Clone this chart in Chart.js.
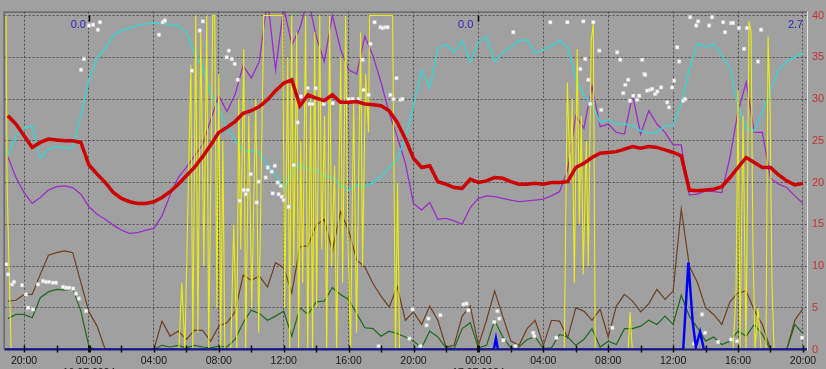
<!DOCTYPE html>
<html>
<head>
<meta charset="utf-8">
<script src="https://cdn.jsdelivr.net/npm/chart.js@4.4.1/dist/chart.umd.min.js"></script>
<style>
  html, body { margin: 0; padding: 0; background: #a0a0a0; overflow: hidden; }
</style>
</head>
<body>
<canvas id="myChart" width="826" height="369"></canvas>
<script>
// hours counted from 00:00 on 16.07.2024, one reading every half hour
var hours = [
    -5, -4.5, -4, -3.5, -3, -2.5, -2, -1.5, -1, -0.5,
    0, 0.5, 1, 1.5, 2, 2.5, 3, 3.5, 4, 4.5,
    5, 5.5, 6, 6.5, 7, 7.5, 8, 8.5, 9, 9.5,
    10, 10.5, 11, 11.5, 12, 12.5, 13, 13.5, 14, 14.5,
    15, 15.5, 16, 16.5, 17, 17.5, 18, 18.5, 19, 19.5,
    20, 20.5, 21, 21.5, 22, 22.5, 23, 23.5, 24, 24.5,
    25, 25.5, 26, 26.5, 27, 27.5, 28, 28.5, 29, 29.5,
    30, 30.5, 31, 31.5, 32, 32.5, 33, 33.5, 34, 34.5,
    35, 35.5, 36, 36.5, 37, 37.5, 38, 38.5, 39, 39.5,
    40, 40.5, 41, 41.5, 42, 42.5, 43, 43.5, 44
]

var redSeries = [
    28, 27, 25.6, 24.2, 24.8, 25.2, 25.1, 25, 25, 24.8,
    22.1, 21, 20, 18.8, 18.1, 17.7, 17.5, 17.5, 17.7, 18.2,
    18.9, 19.8, 20.8, 21.8, 23.1, 24.5, 26, 26.6, 27.3, 28.3,
    28.6, 29.1, 29.9, 31, 31.9, 32.3, 29.2, 30.5, 30.1, 29.8,
    30.5, 29.6, 29.6, 29.7, 29.4, 29.3, 29.2, 28.6, 27.2, 25.2,
    22.9, 21.8, 22, 20.1, 19.8, 19.4, 19.3, 20.4, 20, 20.2,
    20.6, 20.5, 20.1, 19.8, 19.8, 19.9, 19.8, 20, 20, 20.1,
    21.8, 22.3, 23, 23.5, 23.6, 23.7, 24, 24.3, 24.1, 24.3,
    24.2, 23.9, 23.6, 23.2, 19.1, 19, 19.1, 19.2, 19.5, 20.6,
    21.8, 23, 22.4, 21.8, 21.8, 20.9, 20.2, 19.7, 19.9
]

var cyanSeries = [
    23.3, 25.6, 26.5, 26.8, 22.9, 24, 24.3, 24.1, 24.2, 28,
    32.3, 35, 36, 37.6, 38.2, 38.5, 38.8, 39, 39.1, 39.1,
    38.9, 38.8, 38, 35.5, 33.8, 30.7, 28.8, 26.5, 25.1, 23.8,
    23.8, 23.6, 22.1, 21, 19.2, 21.2, 22.2, 21.5, 21.6, 20.8,
    20.6, 19.6, 19.1, 19.7, 19.5, 20, 20.7, 21.8, 22.7, 25.5,
    29.2, 33.5, 31.3, 36, 36.6, 35.6, 37, 34.5, 36.8, 37.5,
    34.5, 35.6, 36.2, 37, 37.1, 35.5, 35.9, 36.4, 37, 36.2,
    32.5, 30.5, 29.3, 27.2, 27.5, 27, 27, 26.8, 26.2, 25.9,
    26, 26.8, 26.8, 29.5, 33.5, 36.7, 36.2, 36.6, 35.2, 33.8,
    29.2, 26.5, 26.2, 28.5, 31, 33.5, 34.5, 35, 35.5
]

var purpleSeries = [
    23.1, 20.6, 18.8, 17.5, 18.2, 19.1, 19.5, 19.6, 19.4, 18.6,
    17.1, 16.2, 15.6, 14.9, 14.3, 13.9, 14, 14.3, 14.5, 16,
    18.5, 20.6, 21.8, 23.2, 24.5, 27.5, 30.4, 28.5, 30.5, 34,
    32.5, 34.5, 42, 33.5, 41, 36.5, 38.5, 42, 37.5, 34.5,
    40, 36, 33.5, 33, 37.5, 35.2, 32, 28.3, 25.5, 22.3,
    17.5, 16.7, 17.6, 15.6, 15.7, 15.4, 15, 17, 18.1, 18.4,
    18.3, 18.1, 17.9, 17.7, 17.8, 17.9, 18, 18.4, 18.9, 21.5,
    28, 26.5, 31.5, 26.7, 27, 26, 25.8, 30.5, 25.8, 28.6,
    27, 26, 24.5, 24.5, 18.5, 18.6, 19, 18.9, 18.8, 23,
    28.5, 32, 26, 26, 20.5, 19.8, 19.4, 18.4, 17.5
]

var brownSeries = [
    5.8, 5.9, 6.6, 6.6, 9, 11.3, 11.6, 11.8, 11.6, 8,
    4.5, 2.8, 0, 0, 0, 0, 0, 0, 0, 3.4,
    1.6, 2.2, 1.2, 2.3, 2.3, 1, 2.8, 3.2, 4.5, 8.9,
    8.3, 8.8, 7.5, 10.4, 9.8, 6.8, 12.3, 12.4, 14.9, 15.6,
    11.8, 16.5, 14.3, 10.7, 9.9, 7.9, 6.4, 5.1, 7.5, 3.5,
    4.5, 3, 5.2, 3.5, 0.3, 0.5, 4, 5.2, 0.5, 3.5,
    7, 4, 1, 0.5, 2.5, 3.5, 0.5, 3.5, 3.4, 1.4,
    5, 4.6, 3.5, 4.8, 1.5, 5.2, 6.6, 5.8, 4.5, 5.5,
    7.2, 6, 7, 16.8, 10, 8, 5, 4.2, 3, 5.7,
    6.8, 7, 4.7, 3, 0, 0, 0, 3.5, 4.9
]

var greenSeries = [
    3.7, 4.2, 4.2, 3.8, 6.2, 6.9, 7.2, 7.1, 7.3, 4.6,
    0.3, 0, 0, 0, 0, 0, 0, 0, 0, 0.5,
    0.3, 0.5, 0.2, 0.5, 0.3, 0.2, 0.4, 0.3, 1.2, 3.2,
    4.7, 4.3, 3.5, 4, 4.6, 1.6, 5, 4.2, 5.7, 5.8,
    7.4, 6.6, 6, 4.3, 2.6, 2.5, 1.6, 2.2, 1.9, 1.5,
    1, 0.2, 2.2, 1.5, 0.2, 0.1, 2.5, 3.2, 0.2, 0.5,
    3.5, 1.5, 0.2, 0.3, 1.2, 1.5, 0.1, 0.2, 1.8, 1.5,
    0.5, 1.2, 2.5, 0.3, 1, 0.6, 2.5, 2.5, 2.8, 3.5,
    3, 4, 3, 6.5, 4, 2.6, 1, 1.5, 0.6, 1,
    2.2, 1.6, 3, 1.8, 0, 0, 0, 3, 1.9
]

// rain bars only appear a few times, so they get their own times
var blueHours = [-5.2, 24.95, 25.08, 25.2, 36.62, 36.94, 37.2, 37.4, 37.66, 37.9, 44.25]
var blueValues = [0, 0, 1.3, 0, 0, 10.4, 3.4, 0.3, 2.1, 0, 0]

var yellowHours = [
    -5.11, -5.05, -4.8, 5.54, 5.72, 5.91, 6.28, 6.4, 6.58, 6.71, 6.89, 7.08, 7.26, 7.38,
    7.63, 7.75, 7.88, 8, 8.12, 8.25, 8.37, 8.74, 8.92, 9.11, 9.23, 9.35, 9.54, 9.66,
    9.85, 10.03, 10.28, 10.46, 10.77, 11.94, 12.06, 12.25, 12.37, 12.49, 12.62, 12.8, 12.92, 13.05,
    13.17, 13.35, 13.48, 13.66, 13.78, 13.91, 14.03, 14.22, 14.34, 14.52, 14.65, 14.83, 14.95, 15.14,
    15.26, 15.51, 15.63, 15.82, 15.94, 16.12, 16.31, 16.49, 16.74, 16.86, 17.05, 17.23, 17.29, 18.71,
    18.89, 19.02, 19.14, 29.29, 29.48, 29.66, 29.78, 29.91, 30.09, 30.22, 30.34, 30.46, 30.65, 30.77,
    30.95, 31.08, 31.2, 33.23, 33.35, 33.48, 39.69, 39.88, 40, 40.12, 40.31, 40.49, 40.68, 40.8,
    40.92, 41.05, 41.23, 41.42, 41.72, 41.85, 41.97, 42.09, 42.22, 44.2
]
var yellowValues = [
    40, 20, 0, 0, 8, 0, 34, 0, 40, 2, 38, 10, 40, 0,
    40, 40, 5, 33, 0, 25, 0, 0, 15, 0, 30, 12, 36, 0,
    28, 5, 30, 2, 40, 40, 5, 35, 0, 40, 10, 38, 0, 25,
    8, 40, 0, 30, 0, 38, 5, 40, 12, 28, 0, 40, 10, 22,
    0, 35, 8, 40, 15, 0, 30, 2, 38, 10, 33, 26, 40, 40,
    0, 20, 0, 0, 32, 20, 30, 8, 36, 15, 28, 9, 25, 10,
    37, 39, 0, 0, 4.5, 0, 0, 7, 31, 0, 28, 0, 39.3, 38,
    12, 0, 5, 0, 0, 37.5, 30, 8, 0, 0
]

var dotHours = [
    -5.1, -4.98, -4.74, -4.62, -4.12, -3.88, -3.75, -3.45, -3.14, -2.83, -2.65, -2.46, -2.22, -2.03,
    -1.6, -1.42, -1.23, -0.98, -0.8, -0.62, -0.18, -0.49, -0.31, 0, 0.25, 0.55, 0.68, 4.31,
    4.55, 4.68, 6.34, 6.83, 7.02, 8.49, 8.62, 8.8, 8.98, 9.17, 9.29, 9.54, 9.66, 9.78,
    9.97, 10.34, 10.46, 10.89, 11.02, 11.26, 11.32, 11.45, 11.63, 11.69, 11.82, 11.88, 12, 12.31,
    12.62, 12.86, 13.05, 13.48, 13.6, 13.78, 13.97, 14.46, 15.02, 16, 16.25, 16.62, 16.86, 16.92,
    17.23, 17.35, 17.6, 17.97, 18.09, 18.28, 18.4, 18.58, 18.77, 18.95, 19.2, 19.32, 17.85, 19.75,
    19.94, 20.43, 20.8, 20.92, 21.66, 23.08, 23.26, 23.38, 24.98, 25.17, 25.29, 25.54, 26.28, 27.38,
    27.45, 28.8, 32.25, 26.15, 28.43, 29.48, 30.46, 31.08, 30.28, 30.58, 30.77, 30.89, 31.45, 31.57,
    32.55, 32.74, 32.92, 33.05, 33.23, 33.35, 33.54, 33.78, 33.91, 34.09, 34.22, 34.28, 34.4, 34.58,
    34.71, 34.89, 35.02, 35.26, 35.63, 35.75, 35.94, 36.06, 36.25, 36.37, 36.62, 36.74, 37.05, 37.42,
    37.54, 38.22, 38.4, 39.08, 39.2, 39.57, 39.69, 40.06, 40.37, 40.55, 41.23, 41.42, 37.29, 37.78,
    37.97, 38.77, 39.57, 39.94, 43.94
]
var dotValues = [
    10.2, 9, 7.8, 8.1, 7.7, 6.6, 5, 4.8, 7.8, 8.2, 8.1, 8.1, 8, 8,
    7.5, 7.4, 7.4, 7.3, 6.7, 6.1, 4.6, 33.5, 34.8, 38.8, 38.9, 38.3, 39.2, 37.7,
    39.2, 39.4, 33.4, 38.2, 39.3, 35, 35.8, 34.8, 34.2, 32.3, 17.8, 19.1, 18.6, 19.1,
    21, 17.6, 20.1, 20.6, 21.8, 21.3, 18.7, 22, 20, 18.6, 19.6, 18.3, 17.9, 17.1,
    22.1, 27.2, 30.3, 31.3, 29.4, 29.4, 31.3, 29.4, 29.5, 30, 30, 30, 34.7, 31.1,
    30.5, 36.6, 39.2, 38.6, 38.5, 38.6, 38.6, 30.5, 30, 32.5, 29.9, 30, 0.4, 1.3,
    4.8, 0.4, 2.9, 3.7, 4.1, 5.4, 5.5, 4.7, 3.3, 4.6, 3.7, 1.1, 0.4, 2,
    1.6, 1.4, 2.6, 38, 39.2, 39.2, 39.3, 39.2, 33.6, 34.8, 32.3, 29.4, 35.8, 28.7,
    35.6, 34.7, 30.7, 31.7, 32.3, 29.8, 30.4, 29.9, 30.4, 34.7, 33, 32.9, 31, 31.1,
    31.2, 30.6, 30.9, 31.4, 29.6, 29, 31.4, 32.2, 36.2, 34.5, 29.8, 30, 39.8, 38.8,
    39.3, 38.8, 39.8, 39.2, 38, 39.1, 39.1, 38.5, 36, 38.5, 34.5, 38.3, 0.7, 4.2,
    2, 0.9, 1.2, 1, 1.4
]

var tickHours = [-4, -2, 0, 2, 4, 6, 8, 10, 12, 14, 16, 18, 20, 22, 24, 26, 28, 30, 32, 34, 36, 38, 40, 42, 44]
var dayDates = { 0: '16.07.2024', 24: '17.07.2024' }
var yTicks = [0, 5, 10, 15, 20, 25, 30, 35, 40]

// daily totals written at the end of each day
var dayEnds = [0, 24, 44.2]
var dayTotals = ['0.0', '0.0', '2.7']

function pairs(xs, ys) {
    return xs.map(function (h, i) { return { x: h, y: ys[i] } })
}

function hourLabel(value) {
    if (value % 4 !== 0) return ''
    var h = ((value % 24) + 24) % 24
    var txt = (h < 10 ? '0' : '') + h + ':00'
    if (dayDates[value]) return [txt, dayDates[value]]
    return txt
}

const framePlugin = {
    id: 'frame',
    afterDatasetsDraw(chart) {
        const ctx = chart.ctx
        const a = chart.chartArea
        const x = chart.scales.x
        function line(x1, y1, x2, y2) {
            ctx.beginPath(); ctx.moveTo(x1, y1); ctx.lineTo(x2, y2); ctx.stroke()
        }
        ctx.save()
        // base line with hour marks
        ctx.strokeStyle = '#1c1c74'
        ctx.lineWidth = 2
        line(a.left, a.bottom, a.right, a.bottom)
        ctx.strokeStyle = '#101010'
        tickHours.forEach(function (h) {
            const px = Math.round(x.getPixelForValue(h)) + 0.5
            ctx.lineWidth = (h % 24 === 0) ? 3 : 1.5
            line(px, a.bottom - 4, px, a.bottom + 3)
        })
        // frame of the plot
        ctx.lineWidth = 1
        ctx.strokeStyle = '#4a4a4a'
        line(a.left, a.top + 0.5, a.right, a.top + 0.5)
        line(a.left - 0.5, a.top, a.left - 0.5, a.bottom)
        ctx.strokeStyle = '#e4e4e4'
        line(a.right + 0.5, a.top, a.right + 0.5, a.bottom + 1)
        // day marks and totals at the top
        ctx.strokeStyle = '#000000'
        ctx.lineWidth = 1.5
        ;[0, 24].forEach(function (h) {
            const px = Math.round(x.getPixelForValue(h)) + 0.5
            line(px, a.top + 4, px, a.top + 10)
        })
        ctx.fillStyle = '#2828c8'
        ctx.font = '11px "Liberation Sans", Arial, sans-serif'
        ctx.textAlign = 'right'
        ctx.textBaseline = 'middle'
        dayEnds.forEach(function (h, i) {
            const px = x.getPixelForValue(h) - (i === 1 ? 5 : 3)
            ctx.fillText(dayTotals[i], px, a.top + 13)
        })
        ctx.restore()
    }
}

var ctx = document.getElementById('myChart').getContext('2d')
var chart = new Chart(ctx, {
    type: 'line',
    data: {
        datasets: [
            {
                label: 'red', data: pairs(hours, redSeries),
                borderColor: '#cc0000', borderWidth: 3.5, pointRadius: 0
            },
            {
                label: 'blue', data: pairs(blueHours, blueValues),
                borderColor: '#0000ff', borderWidth: 2.5, pointRadius: 0
            },
            {
                label: 'dots', data: pairs(dotHours, dotValues), showLine: false,
                pointStyle: 'rect', pointRadius: 2.4, pointBackgroundColor: '#ffffff',
                pointBorderColor: '#c8c8c8', pointBorderWidth: 0.6
            },
            {
                label: 'yellow', data: pairs(yellowHours, yellowValues),
                borderColor: '#ecec10', borderWidth: 1.1, pointRadius: 0
            },
            {
                label: 'cyan', data: pairs(hours, cyanSeries),
                borderColor: '#3ed2d2', borderWidth: 1.5, pointRadius: 0
            },
            {
                label: 'purple', data: pairs(hours, purpleSeries),
                borderColor: '#9a2ec8', borderWidth: 1.3, pointRadius: 0
            },
            {
                label: 'green', data: pairs(hours, greenSeries),
                borderColor: '#1c6a1c', borderWidth: 1.2, pointRadius: 0
            },
            {
                label: 'brown', data: pairs(hours, brownSeries),
                borderColor: '#6e4020', borderWidth: 1.2, pointRadius: 0
            }
        ]
    },
    options: {
        responsive: false,
        animation: false,
        events: [],
        layout: { padding: { left: 3.5, top: 4, right: 0, bottom: 0 } },
        plugins: { legend: { display: false }, tooltip: { enabled: false } },
        scales: {
            x: {
                type: 'linear', min: -5.2, max: 44.25,
                afterBuildTicks: function (scale) {
                    scale.ticks = tickHours.map(function (v) { return { value: v } })
                },
                afterFit: function (scale) { scale.height = 19.5 },
                grid: {
                    drawTicks: false, lineWidth: 1,
                    color: function (c) { return c.tick && c.tick.value % 4 === 0 ? '#505050' : 'rgba(0,0,0,0)' }
                },
                border: { display: false, dash: [2, 2] },
                ticks: {
                    autoSkip: false, maxRotation: 0, minRotation: 0, padding: 5,
                    color: '#181818', font: { family: '"Liberation Sans", Arial, sans-serif', size: 10.5 },
                    callback: hourLabel
                }
            },
            y: {
                type: 'linear', position: 'right', min: 0, max: 40.47,
                afterBuildTicks: function (scale) {
                    scale.ticks = yTicks.map(function (v) { return { value: v } })
                },
                afterFit: function (scale) { scale.width = 19 },
                grid: { drawTicks: false, color: '#505050', lineWidth: 1 },
                border: { display: false, dash: [2, 2] },
                ticks: {
                    padding: 5, color: '#c83232',
                    font: { family: '"Liberation Sans", Arial, sans-serif', size: 11 }
                }
            }
        }
    },
    plugins: [framePlugin]
})
</script>
</body>
</html>
